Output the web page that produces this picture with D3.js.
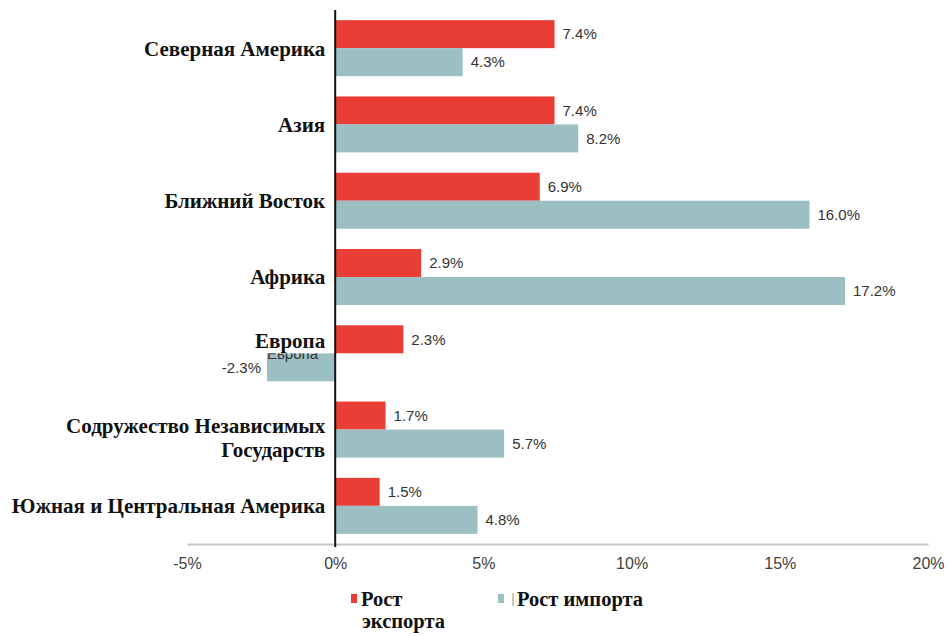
<!DOCTYPE html>
<html>
<head>
<meta charset="utf-8">
<script src="https://cdn.jsdelivr.net/npm/d3@7"></script>
<style>
  body { margin: 0; background: #fff; }
  svg { display: block; }
  .cat-axis text { font-family: "Liberation Serif", "DejaVu Serif", serif; font-weight: bold; font-size: 21px; fill: #111; }
  .val-axis text { font-family: "Liberation Sans", Arial, sans-serif; font-size: 16px; fill: #404040; }
  .value { font-family: "Liberation Sans", Arial, sans-serif; font-size: 15px; fill: #333; }
  .legend text { font-family: "Liberation Serif", serif; font-weight: bold; font-size: 20.5px; fill: #111; }
</style>
</head>
<body>
<svg width="949" height="636"></svg>
<script>
// data
const categories = [
  "Северная Америка",
  "Азия",
  "Ближний Восток",
  "Африка",
  "Европа",
  "Содружество Независимых\nГосударств",
  "Южная и Центральная Америка"
];
const exportGrowth = [7.4, 7.4, 6.9, 2.9, 2.3, 1.7, 1.5];
const importGrowth = [4.3, 8.2, 16.0, 17.2, -2.3, 5.7, 4.8];
const seriesNames = ["Рост\nэкспорта", "Рост импорта"];
const xTicks = [-5, 0, 5, 10, 15, 20];

const colors = ["#e83e36", "#9bbfc2"];

const svg = d3.select("svg");

// scales
const x = d3.scaleLinear()
  .domain([-5, 20])
  .range([187, 928]);

const y = d3.scaleBand()
  .domain(categories)
  .range([10, 544])
  .paddingInner(0.266)
  .paddingOuter(0.133);

const ySub = d3.scaleBand()
  .domain([0, 1])
  .range([0, y.bandwidth()]);

const rows = categories.map((c, i) => ({
  cat: c,
  values: [exportGrowth[i], importGrowth[i]]
}));

// x axis: gray baseline and labels
const xAxis = svg.append("g")
  .attr("class", "val-axis")
  .attr("transform", "translate(0,544)")
  .call(d3.axisBottom(x)
    .tickValues(xTicks)
    .tickSize(0)
    .tickPadding(14)
    .tickFormat(d => d + "%"));
xAxis.select(".domain")
  .attr("stroke", "#c4c4c4")
  .attr("stroke-width", 2);

// bars
const groups = svg.selectAll("g.row")
  .data(rows)
  .enter()
  .append("g")
  .attr("class", "row")
  .attr("transform", d => "translate(0," + y(d.cat) + ")");

groups.selectAll("rect")
  .data(d => d.values)
  .enter()
  .append("rect")
  .attr("x", d => x(Math.min(0, d)))
  .attr("y", (d, i) => ySub(i))
  .attr("width", d => Math.abs(x(d) - x(0)))
  .attr("height", ySub.bandwidth())
  .attr("fill", (d, i) => colors[i]);

groups.selectAll("text.value")
  .data(d => d.values)
  .enter()
  .append("text")
  .attr("class", "value")
  .attr("x", d => d < 0 ? x(d) - 6 : x(d) + 8)
  .attr("y", (d, i) => ySub(i) + ySub.bandwidth() / 2)
  .attr("dy", "0.35em")
  .attr("text-anchor", d => d < 0 ? "end" : "start")
  .text(d => d.toFixed(1) + "%");

// leftover label hidden under Europe tag
const eu = categories[4];
svg.append("text")
  .attr("class", "value")
  .attr("x", 318)
  .attr("y", y(eu) + y.bandwidth() / 2 + 6)
  .attr("text-anchor", "end")
  .attr("fill", "#444")
  .text(eu);

// category axis
const yAxis = svg.append("g")
  .attr("class", "cat-axis")
  .attr("transform", "translate(" + x(0) + ",0)")
  .call(d3.axisLeft(y).tickSize(0).tickPadding(10));

yAxis.select(".domain")
  .attr("stroke", "#111")
  .attr("stroke-width", 2)
  .attr("d", "M0,10V547");

yAxis.selectAll(".tick text")
  .each(function(d) {
    const lines = d.split("\n");
    const t = d3.select(this).text(null).attr("dy", null);
    lines.forEach((line, i) => {
      t.append("tspan")
        .attr("x", -10)
        .attr("dy", i === 0 ? (0.35 - 0.2 * (lines.length - 1)) + "em" : "1.15em")
        .text(line);
    });
  });

// Europe tag sits higher, on a white box
const euTick = yAxis.selectAll(".tick").filter(d => d === eu);
euTick.insert("rect", "text")
  .attr("x", -86)
  .attr("y", -29)
  .attr("width", 78)
  .attr("height", 29)
  .attr("fill", "#fff");
euTick.select("text").attr("transform", "translate(0,-13)");

// legend
const legend = svg.append("g").attr("class", "legend");
const lx = [351, 498];
seriesNames.forEach((name, i) => {
  const g = legend.append("g").attr("transform", "translate(" + lx[i] + ",594)");
  g.append("rect")
    .attr("width", 6)
    .attr("height", 9)
    .attr("fill", colors[i]);
  if (i === 1) {
    g.append("line")
      .attr("x1", 15).attr("x2", 15)
      .attr("y1", -1).attr("y2", 12)
      .attr("stroke", "#b08a60")
      .attr("stroke-width", 1);
  }
  const t = g.append("text").attr("x", i === 0 ? 10 : 19).attr("y", 12);
  name.split("\n").forEach((line, j) => {
    t.append("tspan")
      .attr("x", i === 0 ? 10 + j : 19)
      .attr("dy", j === 0 ? 0 : 22)
      .text(line);
  });
});
</script>
</body>
</html>
